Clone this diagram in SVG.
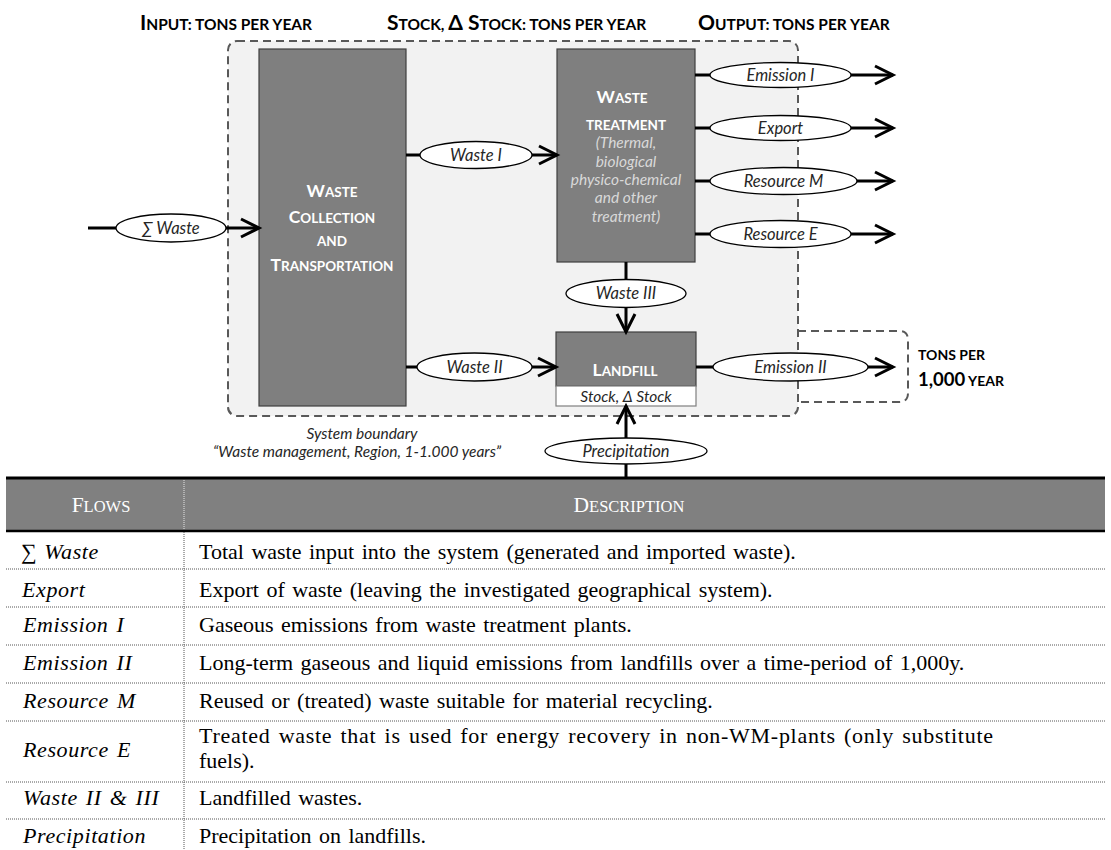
<svg xmlns="http://www.w3.org/2000/svg" width="1111" height="850" viewBox="0 0 1111 850">
  <defs>
    <style>
      .cap { font-family: Lato, "Open Sans", "Liberation Sans", sans-serif; font-weight: bold; fill: #000; }
      .hdr { font-size: 15.5px; }
      .hdr .L { font-size: 21px; }
      .box { fill: #7f7f7f; stroke: #3f3f3f; stroke-width: 1.2; }
      .boxt { font-family: Lato, "Open Sans", "Liberation Sans", sans-serif; font-weight: bold; fill: #fff; font-size: 13.5px; text-anchor: middle; }
      .boxt .L { font-size: 17.5px; }
      .sub { font-family: Lato, "Open Sans", "Liberation Sans", sans-serif; font-style: italic; font-size: 15.5px; text-anchor: middle; }
      .flow { stroke: #000; stroke-width: 3; fill: none; }
      .lbl { fill: #fff; stroke: #000; stroke-width: 1.3; }
      .lblt { font-family: Lato, "Open Sans", "Liberation Sans", sans-serif; font-style: italic; font-size: 16.5px; fill: #262626; text-anchor: middle; }
      .bnd { fill: #f2f2f2; stroke: #595959; stroke-width: 2; stroke-dasharray: 8 5; }
      .bnd2 { fill: none; stroke: #595959; stroke-width: 2; stroke-dasharray: 8 5; }
      .tb { font-family: "Liberation Serif", "DejaVu Serif", serif; font-size: 22px; word-spacing: 2px; fill: #000; }
      .it { font-style: italic; letter-spacing: 0.6px; }
      .th { font-family: "Liberation Serif", "DejaVu Serif", serif; font-size: 16.5px; fill: #fff; text-anchor: middle; }
      .th .L { font-size: 21.5px; }
      .dot { stroke: #555; stroke-width: 1; stroke-dasharray: 1 1; }
    </style>
    <marker id="arr" markerUnits="userSpaceOnUse" markerWidth="26" markerHeight="26" viewBox="0 0 26 26" refX="21" refY="13" orient="auto" overflow="visible">
      <path d="M3,4 L21,13 L3,22" fill="none" stroke="#000" stroke-width="3"/>
    </marker>
  </defs>

  <!-- column headings -->
  <g id="headings">
    <text class="cap hdr" x="140" y="30"><tspan class="L">I</tspan>NPUT: TONS PER YEAR</text>
    <text class="cap hdr" x="387" y="30"><tspan class="L">S</tspan>TOCK, <tspan class="L">Δ S</tspan>TOCK: TONS PER YEAR</text>
    <text class="cap hdr" x="698" y="30"><tspan class="L">O</tspan>UTPUT: TONS PER YEAR</text>
  </g>

  <!-- system boundary -->
  <g id="boundary">
    <rect class="bnd" x="228" y="41" width="570" height="375" rx="9"/>
    <path class="bnd2" d="M798,331 H899 Q908,331 908,340 V393 Q908,402 899,402 H798"/>
    <text class="sub" x="362" y="439" fill="#262626" font-size="15.5">System boundary</text>
    <text class="sub" x="357" y="457" fill="#262626" font-size="15.5">“Waste management, Region, 1-1.000 years”</text>
    <text class="cap" x="918" y="360" font-size="14">TONS PER</text>
    <text class="cap" x="918" y="386" font-size="14"><tspan font-size="18.5">1,000</tspan> YEAR</text>
  </g>

  <!-- processes -->
  <g id="collection">
    <rect class="box" x="259" y="49" width="147" height="357"/>
    <text class="boxt" x="332" y="197"><tspan class="L">W</tspan>ASTE</text>
    <text class="boxt" x="332" y="223"><tspan class="L">C</tspan>OLLECTION</text>
    <text class="boxt" x="332" y="246">AND</text>
    <text class="boxt" x="332" y="271"><tspan class="L">T</tspan>RANSPORTATION</text>
  </g>

  <g id="treatment">
    <rect class="box" x="557" y="49" width="138" height="213"/>
    <text class="boxt" x="622" y="103"><tspan class="L">W</tspan>ASTE</text>
    <text class="boxt" x="626" y="130">TREATMENT</text>
    <text class="sub" x="626" y="148" fill="#d9d9d9">(Thermal,</text>
    <text class="sub" x="626" y="167" fill="#d9d9d9">biological</text>
    <text class="sub" x="626" y="185" fill="#d9d9d9">physico-chemical</text>
    <text class="sub" x="626" y="203" fill="#d9d9d9">and other</text>
    <text class="sub" x="626" y="222" fill="#d9d9d9">treatment)</text>
  </g>

  <g id="landfill">
    <rect class="box" x="556" y="332" width="140" height="54"/>
    <rect x="556" y="386" width="140" height="20" fill="#fff" stroke="#7f7f7f" stroke-width="1.2"/>
    <text class="boxt" x="625" y="376"><tspan class="L">L</tspan>ANDFILL</text>
    <text class="sub" x="626" y="401.5" fill="#262626" font-size="16">Stock, Δ Stock</text>
  </g>

  <!-- flows -->
  <g id="connectors">
    <line class="flow" x1="88" y1="228" x2="259" y2="228" marker-end="url(#arr)"/>
    <line class="flow" x1="406" y1="155" x2="557" y2="155" marker-end="url(#arr)"/>
    <line class="flow" x1="406" y1="367" x2="556" y2="367" marker-end="url(#arr)"/>
    <line class="flow" x1="695" y1="75" x2="893" y2="75" marker-end="url(#arr)"/>
    <line class="flow" x1="695" y1="128" x2="893" y2="128" marker-end="url(#arr)"/>
    <line class="flow" x1="695" y1="181" x2="893" y2="181" marker-end="url(#arr)"/>
    <line class="flow" x1="695" y1="234" x2="893" y2="234" marker-end="url(#arr)"/>
    <line class="flow" x1="626" y1="262" x2="626" y2="332" marker-end="url(#arr)"/>
    <line class="flow" x1="696" y1="367" x2="893" y2="367" marker-end="url(#arr)"/>
    <line class="flow" x1="626" y1="478" x2="626" y2="406" marker-end="url(#arr)"/>

    <ellipse class="lbl" cx="171" cy="228" rx="55" ry="14"/>
    <text class="lblt" x="171" y="233.5">∑ Waste</text>
    <ellipse class="lbl" cx="476" cy="155" rx="56" ry="13.5"/>
    <text class="lblt" x="476" y="160.5">Waste I</text>
    <ellipse class="lbl" cx="474.5" cy="367" rx="57.5" ry="14"/>
    <text class="lblt" x="474.5" y="372.5">Waste II</text>
    <ellipse class="lbl" cx="780.5" cy="75" rx="70.5" ry="12.5"/>
    <text class="lblt" x="780.5" y="80.5">Emission I</text>
    <ellipse class="lbl" cx="780.5" cy="128" rx="70.5" ry="12.5"/>
    <text class="lblt" x="780.5" y="133.5">Export</text>
    <ellipse class="lbl" cx="783.5" cy="181" rx="73.5" ry="13.5"/>
    <text class="lblt" x="783.5" y="186.5">Resource M</text>
    <ellipse class="lbl" cx="780.5" cy="234" rx="70.5" ry="13.5"/>
    <text class="lblt" x="780.5" y="239.5">Resource E</text>
    <ellipse class="lbl" cx="626" cy="293.5" rx="60" ry="14"/>
    <text class="lblt" x="626" y="299">Waste III</text>
    <ellipse class="lbl" cx="790.5" cy="367" rx="77.5" ry="14"/>
    <text class="lblt" x="790.5" y="372.5">Emission II</text>
    <ellipse class="lbl" cx="626" cy="451" rx="81" ry="13"/>
    <text class="lblt" x="626" y="456.5">Precipitation</text>
  </g>

  <!-- flow description table -->
  <g id="table">
    <rect x="6" y="478" width="1099" height="53" fill="#808080"/>
    <line x1="6" y1="478" x2="1105" y2="478" stroke="#000" stroke-width="3"/>
    <line x1="6" y1="531" x2="1105" y2="531" stroke="#000" stroke-width="2.5"/>
    <line x1="184" y1="480" x2="184" y2="530" stroke="#e6e6e6" stroke-width="1" stroke-dasharray="1 1"/>
    <line class="dot" x1="184" y1="532" x2="184" y2="850"/>
    <line class="dot" x1="6" y1="569" x2="1105" y2="569"/>
    <line class="dot" x1="6" y1="607" x2="1105" y2="607"/>
    <line class="dot" x1="6" y1="645" x2="1105" y2="645"/>
    <line class="dot" x1="6" y1="683" x2="1105" y2="683"/>
    <line class="dot" x1="6" y1="721" x2="1105" y2="721"/>
    <line class="dot" x1="6" y1="782" x2="1105" y2="782"/>
    <line class="dot" x1="6" y1="819" x2="1105" y2="819"/>

    <text class="th" x="101" y="512"><tspan class="L">F</tspan>LOWS</text>
    <text class="th" x="629" y="512"><tspan class="L">D</tspan>ESCRIPTION</text>

    <text class="tb" x="21" y="559">∑ <tspan class="it">Waste</tspan></text>
    <text class="tb" x="199" y="559">Total waste input into the system (generated and imported waste).</text>

    <text class="tb it" x="22" y="597">Export</text>
    <text class="tb" x="199" y="597">Export of waste (leaving the investigated geographical system).</text>

    <text class="tb it" x="23" y="632">Emission I</text>
    <text class="tb" x="199" y="632">Gaseous emissions from waste treatment plants.</text>

    <text class="tb it" x="23" y="670">Emission II</text>
    <text class="tb" x="199" y="670">Long-term gaseous and liquid emissions from landfills over a time-period of 1,000y.</text>

    <text class="tb it" x="23" y="708">Resource M</text>
    <text class="tb" x="199" y="708">Reused or (treated) waste suitable for material recycling.</text>

    <text class="tb it" x="23" y="757">Resource E</text>
    <text class="tb" x="199" y="743" textLength="794">Treated waste that is used for energy recovery in non-WM-plants (only substitute</text>
    <text class="tb" x="199" y="768">fuels).</text>

    <text class="tb it" x="23" y="805">Waste II &amp; III</text>
    <text class="tb" x="199" y="805">Landfilled wastes.</text>

    <text class="tb it" x="23" y="843">Precipitation</text>
    <text class="tb" x="199" y="843">Precipitation on landfills.</text>
  </g>
</svg>
